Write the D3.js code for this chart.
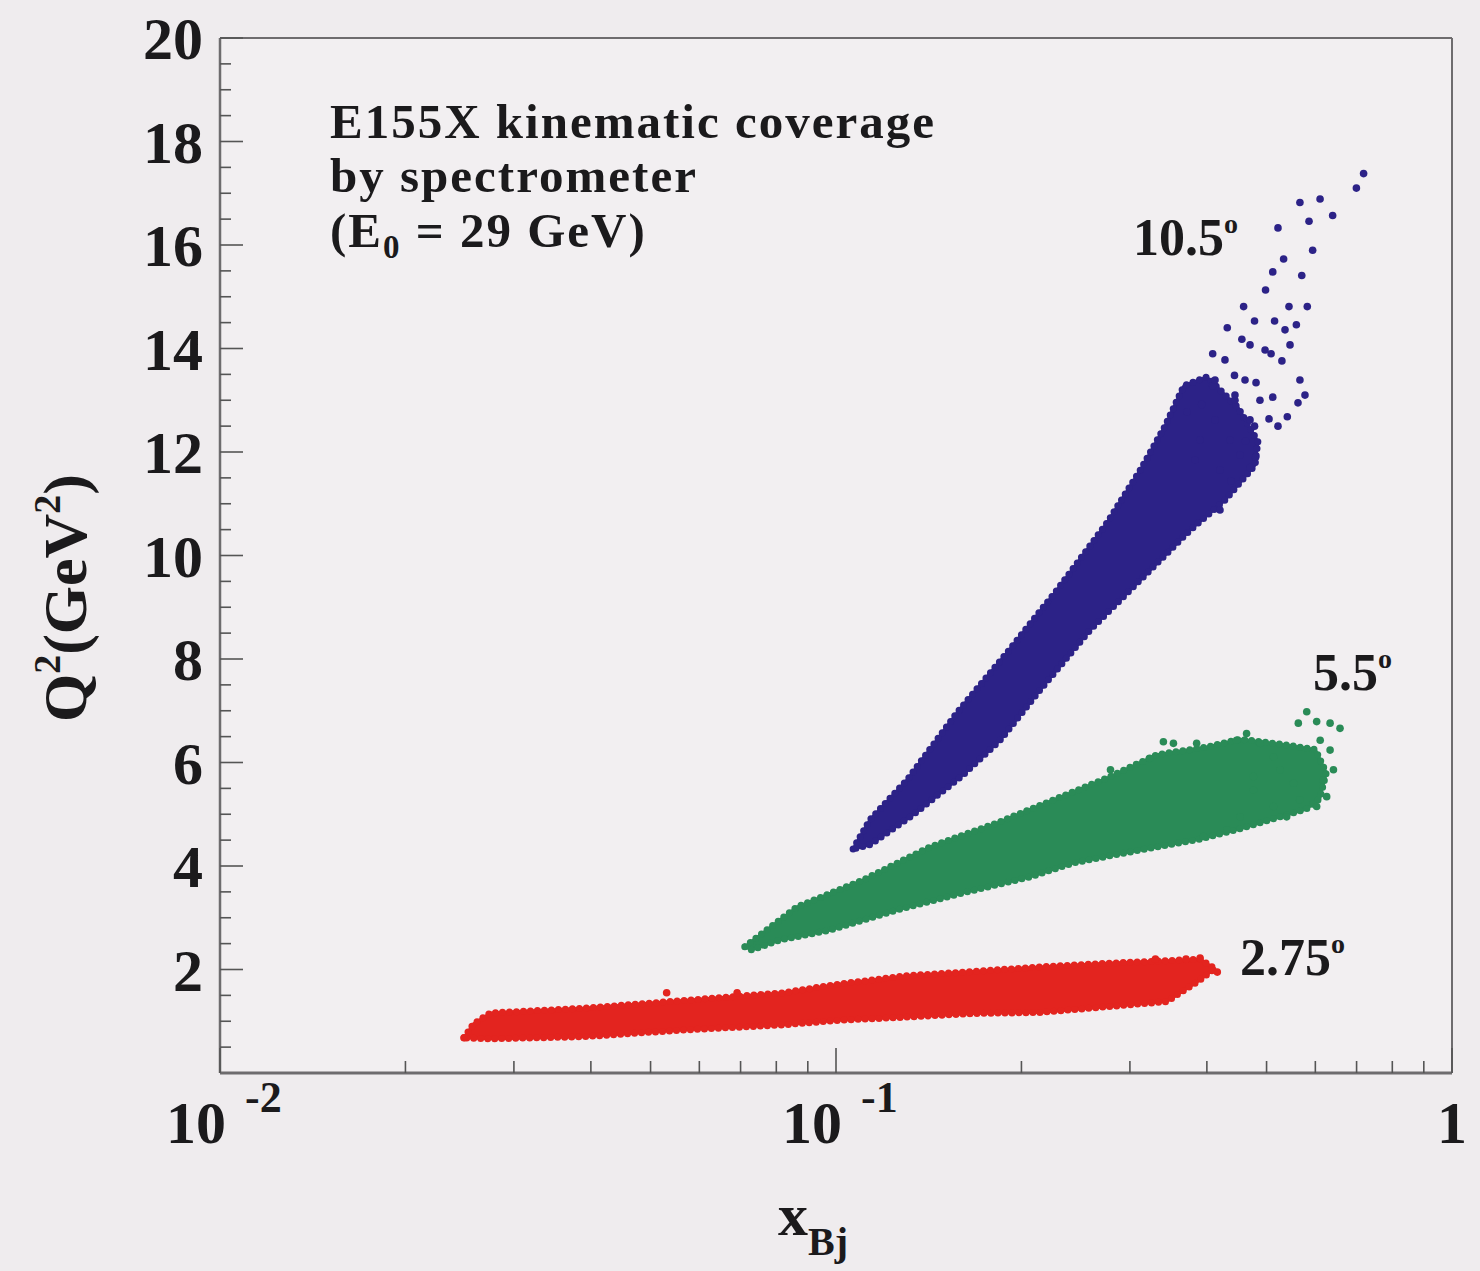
<!DOCTYPE html>
<html><head><meta charset="utf-8">
<script src="https://cdn.jsdelivr.net/npm/d3@7"></script>
<style>body{margin:0;background:#efecee}svg{display:block}</style>
</head><body>
<svg id="chart" width="1480" height="1271"></svg>
<script>
// ---------- data ----------
const xTickValues = [0.01, 0.1, 1];
const xTickBases = ["10", "10", "1"];
const xTickExps = ["-2", "-1", ""];
const yTickValues = [2, 4, 6, 8, 10, 12, 14, 16, 18, 20];
const seriesNames = ["2.75", "5.5", "10.5"];
const seriesColors = ["#e3241f", "#2a8b57", "#2c2287"];
const titleLines = ["E155X kinematic coverage", "by spectrometer"];

// dense cores of the scatter clouds: outline points [xBj, Q2]
const redCore = [
  [0.0249,0.68],[0.0258,0.95],[0.0275,1.16],[0.0388,1.25],[0.0565,1.40],[0.082,1.55],
  [0.1014,1.72],[0.1303,1.88],[0.1667,1.96],[0.2143,2.05],[0.2754,2.12],[0.3442,2.17],
  [0.39,2.20],[0.412,2.02],[0.39,1.80],[0.3442,1.38],[0.2754,1.28],[0.2143,1.17],
  [0.1667,1.15],[0.1303,1.08],[0.1014,1.02],[0.082,0.93],[0.0565,0.83],[0.0388,0.70],
  [0.0275,0.66]
];
const greenCore = [
  [0.0711,2.44],[0.0865,3.21],[0.1107,3.73],[0.1422,4.37],[0.1824,4.83],[0.2312,5.33],
  [0.2754,5.70],[0.3319,6.15],[0.40,6.30],[0.453,6.45],[0.53,6.35],[0.60,6.25],
  [0.625,5.80],[0.61,5.30],[0.58,5.10],[0.4529,4.72],[0.39,4.52],[0.3119,4.31],
  [0.2428,4.06],[0.2066,3.79],[0.1607,3.48],[0.1256,3.15],[0.0977,2.76],[0.0811,2.57],
  [0.0730,2.38]
];
const blueCore = [
  [0.1066,4.33],[0.1135,4.89],[0.1304,5.66],[0.1572,6.96],[0.1895,8.12],[0.2284,9.33],
  [0.2754,10.63],[0.3119,11.65],[0.3421,12.50],[0.3671,13.28],[0.40,13.45],[0.45,12.85],
  [0.484,12.20],[0.479,11.75],[0.428,11.07],[0.3756,10.49],[0.3119,9.53],[0.2584,8.56],
  [0.2143,7.40],[0.1846,6.43],[0.1607,5.76],[0.1334,4.99],[0.1135,4.41]
];
// individual sparse points outside the dense cores [xBj, Q2]
const redPoints = [
  [0.0249,0.68],[0.0531,1.55],[0.0691,1.55],[0.4159,1.95],[0.39,2.22],[0.37,2.20],[0.33,2.20]
];
const greenPoints = [
  [0.581,6.98],[0.563,6.76],[0.603,6.79],[0.634,6.76],[0.658,6.66],[0.611,6.43],[0.634,6.24],
  [0.642,5.86],[0.618,5.66],[0.626,5.34],[0.603,5.15],[0.566,5.28],[0.553,5.60],[0.526,5.86],
  [0.513,6.11],[0.488,6.37],[0.464,6.56],[0.447,6.43],[0.385,6.37],[0.353,6.37],[0.340,6.40],
  [0.323,6.08],[0.279,5.86],[0.476,5.47],[0.513,5.15],[0.453,4.95],[0.431,4.70],[0.395,4.57],
  [0.476,5.73],[0.539,4.95]
];
const bluePoints = [
  [0.7186,17.38],[0.6995,17.10],[0.5664,16.82],[0.6107,16.89],[0.5860,16.46],[0.6401,16.57],
  [0.5218,16.33],[0.5940,15.90],[0.5329,15.73],[0.5703,15.41],[0.5117,15.48],[0.4981,15.13],
  [0.5822,14.81],[0.5437,14.81],[0.5589,14.46],[0.5152,14.53],[0.4589,14.81],[0.4780,14.53],
  [0.4317,14.40],[0.5295,13.76],[0.5085,13.90],[0.5117,13.06],[0.5623,12.95],[0.5403,12.68],
  [0.5218,12.50],[0.5046,12.64],[0.4621,12.21],[0.4780,12.50],[0.4377,11.44],[0.4201,10.88],
  [0.4088,13.90],[0.4559,14.18],[0.4807,13.34],[0.4435,13.48],[0.4088,13.28],[0.3924,12.92],
  [0.3714,12.77],[0.48,11.90],[0.47,11.70],
  [0.436,12.23],[0.4527,11.94],[0.4201,11.65],[0.470,12.62],[0.4443,13.0],[0.4124,12.62],
  [0.39,12.23],[0.3826,11.85],[0.4878,13.0],[0.4613,13.39],[0.428,13.78],[0.4972,13.97],
  [0.5357,14.36],[0.5458,14.07],[0.5664,13.39],[0.5772,13.10],[0.470,14.07],[0.4443,13.10],
  [0.4124,13.39]
];
const cores = [redCore, greenCore, blueCore];
const points = [redPoints, greenPoints, bluePoints];

// ---------- drawing ----------
const svg = d3.select("#chart");
const W = 1480, H = 1271;
const m = {left: 220, right: 28, top: 38, bottom: 198};
const x = d3.scaleLog().domain([0.01, 1]).range([m.left, W - m.right]);
const y = d3.scaleLinear().domain([0, 20]).range([H - m.bottom, m.top]);
const serif = "'Liberation Serif','Times New Roman',serif";
const ink = "#1b1a1c";

svg.append("rect").attr("width", W).attr("height", H).attr("fill", "#efecee");
svg.append("rect").attr("x", m.left).attr("y", m.top)
  .attr("width", W - m.left - m.right).attr("height", H - m.top - m.bottom)
  .attr("fill", "#f2eff1");

// scatter clouds: dense core + grainy edge + sparse points
const line = d3.line().x(d => x(d[0])).y(d => y(d[1])).curve(d3.curveLinearClosed);
cores.forEach((c, i) => {
  svg.append("path").attr("d", line(c))
    .attr("fill", seriesColors[i]).attr("stroke", seriesColors[i])
    .attr("stroke-width", 3).attr("stroke-linejoin", "round");
  svg.append("path").attr("d", line(c))
    .attr("fill", "none").attr("stroke", seriesColors[i])
    .attr("stroke-width", 7).attr("stroke-linecap", "round")
    .attr("stroke-dasharray", "0,7");
  svg.append("g").selectAll("circle").data(points[i]).join("circle")
    .attr("cx", d => x(d[0])).attr("cy", d => y(d[1])).attr("r", 3.8)
    .attr("fill", seriesColors[i]);
});

// frame
const fr = svg.append("g").attr("fill", "none").attr("stroke", "#6e6c6e");
fr.append("line").attr("x1", m.left).attr("x2", W - m.right).attr("y1", m.top).attr("y2", m.top).attr("stroke-width", 2);
fr.append("line").attr("x1", W - m.right).attr("x2", W - m.right).attr("y1", m.top).attr("y2", H - m.bottom).attr("stroke-width", 2);
fr.append("line").attr("x1", m.left).attr("x2", W - m.right).attr("y1", H - m.bottom).attr("y2", H - m.bottom).attr("stroke-width", 3);
fr.append("line").attr("x1", m.left).attr("x2", m.left).attr("y1", m.top).attr("y2", H - m.bottom).attr("stroke-width", 2.5);

// x ticks (inside, pointing up)
const xMinor = [];
[0.01, 0.1].forEach(dec => { for (let k = 2; k <= 9; k++) xMinor.push(dec * k); });
const tg = svg.append("g").attr("stroke", "#555").attr("stroke-width", 1.6);
tg.selectAll(".xm").data(xMinor).join("line")
  .attr("x1", d => x(d)).attr("x2", d => x(d))
  .attr("y1", H - m.bottom).attr("y2", H - m.bottom - 12);
tg.selectAll(".xM").data(xTickValues).join("line")
  .attr("x1", d => x(d)).attr("x2", d => x(d))
  .attr("y1", H - m.bottom).attr("y2", H - m.bottom - 25);
// y ticks (inside, pointing right)
const yMinor = d3.range(0.5, 20, 0.5).filter(v => v % 2 !== 0);
tg.selectAll(".ym").data(yMinor).join("line")
  .attr("x1", m.left).attr("x2", m.left + 11)
  .attr("y1", d => y(d)).attr("y2", d => y(d));
tg.selectAll(".yM").data(yTickValues).join("line")
  .attr("x1", m.left).attr("x2", m.left + 23)
  .attr("y1", d => y(d)).attr("y2", d => y(d));

// y tick labels
svg.append("g").selectAll("text").data(yTickValues).join("text")
  .attr("x", 203).attr("y", d => y(d)).attr("dy", "0.35em")
  .attr("text-anchor", "end").attr("font-family", serif).attr("font-weight", "bold")
  .attr("font-size", 60).attr("fill", ink).text(d => d);

// x tick labels
xTickValues.forEach((v, i) => {
  const t = svg.append("text").attr("font-family", serif).attr("font-weight", "bold")
    .attr("fill", ink);
  if (xTickExps[i]) {
    t.attr("x", x(v) - 54).attr("y", 1143).attr("font-size", 60).text(xTickBases[i]);
    svg.append("text").attr("x", x(v) + 25).attr("y", 1112)
      .attr("font-family", serif).attr("font-weight", "bold").attr("font-size", 44)
      .attr("fill", ink).text(xTickExps[i]);
  } else {
    t.attr("x", x(v)).attr("y", 1143).attr("text-anchor", "middle")
      .attr("font-size", 60).text(xTickBases[i]);
  }
});

// axis titles
const xl = svg.append("text").attr("x", 778).attr("y", 1235)
  .attr("font-family", serif).attr("font-weight", "bold").attr("font-size", 60).attr("fill", ink);
xl.append("tspan").text("x");
xl.append("tspan").attr("font-size", 40).attr("dy", 20).text("Bj");

const yl = svg.append("text").attr("transform", "translate(86,598) rotate(-90)")
  .attr("text-anchor", "middle").attr("font-family", serif).attr("font-weight", "bold")
  .attr("font-size", 62).attr("fill", ink);
yl.append("tspan").text("Q");
yl.append("tspan").attr("font-size", 38).attr("dy", -26).text("2");
yl.append("tspan").attr("dy", 26).text("(GeV");
yl.append("tspan").attr("font-size", 38).attr("dy", -26).text("2");
yl.append("tspan").attr("dy", 26).text(")");

// title block
const tt = svg.append("g").attr("font-family", serif).attr("font-weight", "bold")
  .attr("font-size", 49).attr("letter-spacing", 2).attr("fill", ink);
tt.append("text").attr("x", 330).attr("y", 137.5).text(titleLines[0]);
tt.append("text").attr("x", 330).attr("y", 192).text(titleLines[1]);
const t3 = tt.append("text").attr("x", 330).attr("y", 246.5);
t3.append("tspan").text("(E");
t3.append("tspan").attr("font-size", 33).attr("dy", 11).text("0");
t3.append("tspan").attr("dy", -11).text(" = 29 GeV)");

// series labels
const labelPos = [[1240, 975], [1313, 690], [1133, 255]];
seriesNames.forEach((n, i) => {
  const t = svg.append("text").attr("x", labelPos[i][0]).attr("y", labelPos[i][1])
    .attr("font-family", serif).attr("font-weight", "bold").attr("font-size", 52).attr("fill", ink);
  t.append("tspan").text(n);
  t.append("tspan").attr("font-size", 28).attr("dy", -22).text("o");
});
</script>
</body></html>
